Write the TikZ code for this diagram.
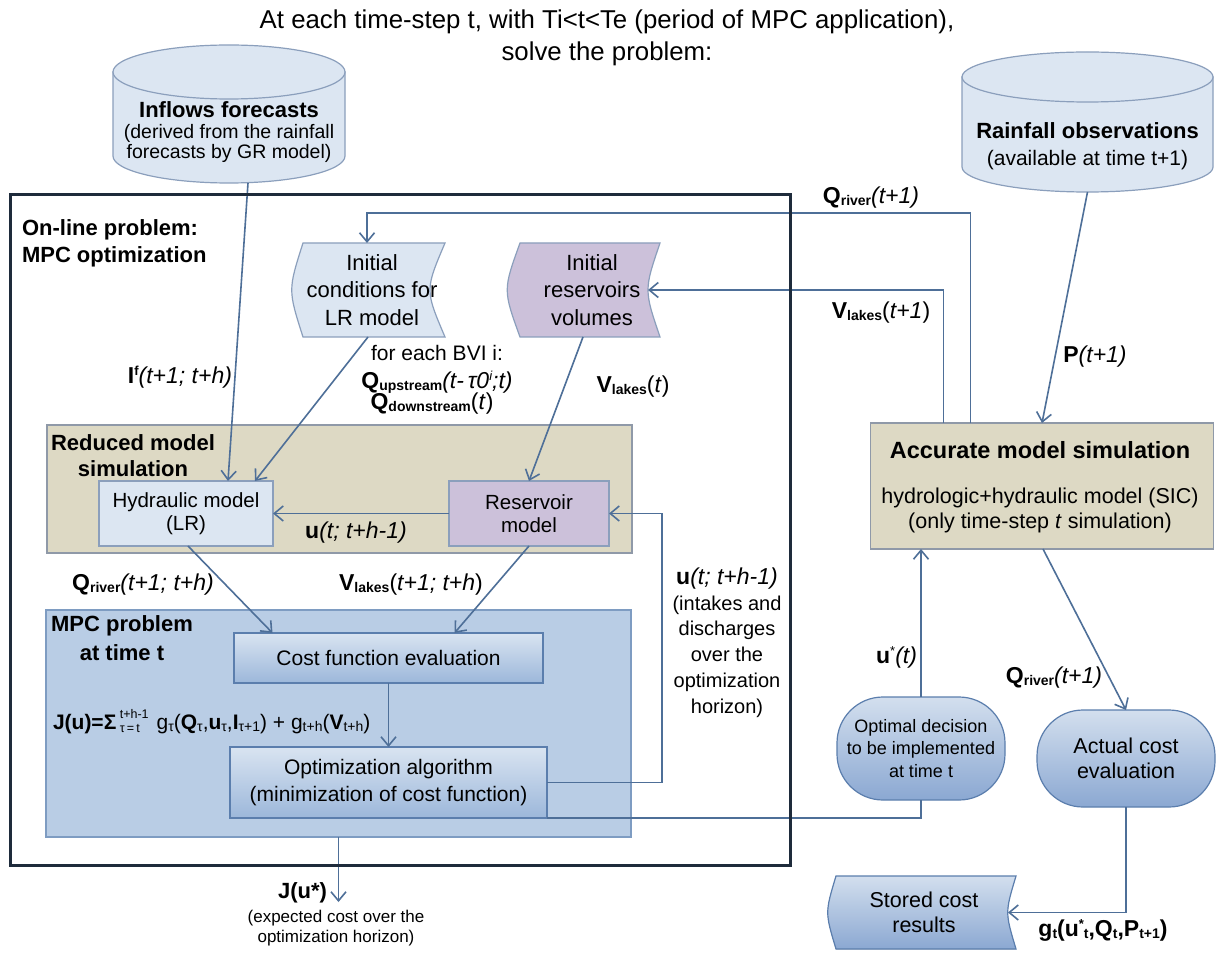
\documentclass[tikz,border=0pt]{standalone}
\usepackage{fontspec}
\setmainfont{Liberation Sans}
\usetikzlibrary{arrows.meta,calc,shadings}

\definecolor{lblue}{HTML}{DCE6F2}
\definecolor{purp}{HTML}{CCC1DA}
\definecolor{tanc}{HTML}{DDD9C4}
\definecolor{mpcc}{HTML}{B9CDE5}
\definecolor{edgec}{HTML}{4E6F98}
\definecolor{bordc}{HTML}{8B9FBC}
\definecolor{tanb}{HTML}{8F99A8}
\definecolor{mpcb}{HTML}{7E9CC2}
\definecolor{darkb}{HTML}{5B7EAD}
\definecolor{gtop}{HTML}{D9E4F1}
\definecolor{gbot}{HTML}{9CB7DA}
\definecolor{ctop}{HTML}{D3DFEE}
\definecolor{cbot}{HTML}{8BA8D2}
\definecolor{framec}{HTML}{1E2B3B}

\newcommand\sbx[1]{\raisebox{-2pt}{\fontsize{14}{14}\selectfont #1}}
\newcommand\spx[1]{\raisebox{8pt}{\fontsize{13}{13}\selectfont #1}}
\newcommand\fsz[2]{\fontsize{#1}{#2}\selectfont}

\tikzset{
  txt/.style={inner sep=0pt, outer sep=0pt},
  arr/.style={draw=edgec, line width=1.6pt, -{Straight Barb[length=9pt,width=15pt]}},
  ln/.style={draw=edgec, line width=1.6pt},
  cylsty/.style={fill=lblue, draw=bordc, line width=1.2pt},
  lbluebox/.style={txt, fill=lblue, draw=bordc, line width=1.2pt},
  purpbox/.style={txt, fill=purp, draw=bordc, line width=1.2pt},
  tanbox/.style={txt, fill=tanc, draw=tanb, line width=1.2pt},
  mpcbox/.style={txt, fill=mpcc, draw=mpcb, line width=1.2pt},
  gradbox/.style={txt, top color=gtop, bottom color=gbot, draw=darkb, line width=1.2pt},
  capsule/.style={txt, top color=ctop, bottom color=cbot, draw=darkb, line width=1.2pt, rounded corners=46pt},
  lab/.style={txt, font=\fsz{23}{27}},
}

\begin{document}
\begin{tikzpicture}[x=1pt,y=-1pt]
\useasboundingbox (0,0) rectangle (1218,957);
\fill[white] (0,0) rectangle (1218,957);

% title
\node[txt, align=center, font=\fsz{25.8}{32}] (title) at (607,38)
  {At each time-step t, with Ti<t<Te (period of MPC application),\\solve the problem:};

% containers
\node[tanbox, minimum width=585, minimum height=128] (red) at (339.5,489) {};
\node[mpcbox, minimum width=585, minimum height=227] (mpc) at (338.5,723.5) {};
\node[txt, minimum width=780, minimum height=670] (frm) at (400,530) {};

% cylinders
\node[txt, minimum width=232, minimum height=138] (inf) at (229,114) {};
\filldraw[cylsty] (113,72) -- (113,156) .. controls (113,170.9) and (164.9,183) .. (229,183)
   .. controls (293.1,183) and (345,170.9) .. (345,156) -- (345,72) -- cycle;
\filldraw[cylsty] (229,72) ellipse[x radius=116, y radius=27];
\node[txt, align=center, font=\fsz{19.5}{20.5}] (inft) at (229,132.5)
  {{\bfseries\fsz{22}{20.5}Inflows forecasts}\\(derived from the rainfall\\forecasts by GR model)};

\node[txt, minimum width=251, minimum height=140] (rain) at (1087.5,122) {};
\filldraw[cylsty] (962,77) -- (962,167) .. controls (962,180.8) and (1018.2,192) .. (1087.5,192)
   .. controls (1156.8,192) and (1213,180.8) .. (1213,167) -- (1213,77) -- cycle;
\filldraw[cylsty] (1087.5,77) ellipse[x radius=125.5, y radius=25];
\node[txt, align=center, font=\fsz{21}{27}] (raint) at (1087.5,146.5)
  {{\bfseries\fsz{22}{27}Rainfall observations}\\(available at time t+1)};

% stored-data shapes
\node[txt, minimum width=142, minimum height=94] (ic) at (374,290) {};
\filldraw[fill=lblue, draw=bordc, line width=1.2pt] (ic.north west) -- (ic.north east)
  .. controls ($(ic.east)+(-20,0)$) .. (ic.south east) -- (ic.south west)
  .. controls ($(ic.west)+(-15,0)$) .. cycle;
\node[txt, align=center, font=\fsz{22}{27.5}] (ict) at (372,290) {Initial\\conditions for\\LR model};

\node[txt, minimum width=140, minimum height=94] (rv) at (590,290) {};
\filldraw[fill=purp, draw=bordc, line width=1.2pt] (rv.north west) -- (rv.north east)
  .. controls ($(rv.east)+(-16,0)$) .. (rv.south east) -- (rv.south west)
  .. controls ($(rv.west)+(-17,0)$) .. cycle;
\node[txt, align=center, font=\fsz{22}{27.5}] (rvt) at (592,290) {Initial\\reservoirs\\volumes};

\node[txt, minimum width=180, minimum height=73] (sto) at (926,912.5) {};
\filldraw[top color=ctop, bottom color=cbot, draw=darkb, line width=1.2pt] (sto.north west) -- (sto.north east)
  .. controls ($(sto.east)+(-11,0)$) .. (sto.south east) -- (sto.south west)
  .. controls ($(sto.west)+(-11,0)$) .. cycle;
\node[txt, align=center, font=\fsz{21.5}{25}] (stot) at (924,912.5) {Stored cost\\results};

% boxes
\node[lbluebox, minimum width=174, minimum height=65, align=center, font=\fsz{20.5}{23}] (hyd) at (186,513.5) {Hydraulic model\\(LR)};
\node[purpbox, minimum width=160, minimum height=65, align=center, font=\fsz{20.5}{23}] (res) at (529,513.5) {Reservoir\\model};
\node[gradbox, minimum width=309, minimum height=50, font=\fsz{21}{25}] (cost) at (388.5,658) {Cost function evaluation};
\node[gradbox, minimum width=317, minimum height=71, align=center, font=\fsz{21}{27}] (opt) at (388.5,782.5) {Optimization algorithm\\(minimization of cost function)};
\node[tanbox, minimum width=343, minimum height=126] (acc) at (1042,486) {};
\node[txt, font=\bfseries\fsz{23.5}{27}] (acct) at (1040,450) {Accurate model simulation};
\node[txt, align=center, font=\fsz{21.5}{25}] (acct2) at (1040,510.5) {hydrologic+hydraulic model (SIC)\\(only time-step \textit{t} simulation)};
\node[capsule, minimum width=168, minimum height=103, align=center, font=\fsz{18}{22.5}] (optd) at (921,748.5) {Optimal decision\\to be implemented\\at time t};
\node[capsule, minimum width=178, minimum height=97, align=center, font=\fsz{21.5}{25}] (act) at (1126,758.5) {Actual cost\\evaluation};

% connectors
\coordinate (fb) at (662,782.5);
\coordinate (jend) at (338.5,902);
\draw[arr] ($(inf.south)+(19,0)$) -- ($(hyd.north)+(42,0)$);
\draw[arr] ($(ic.south)+(-6,0)$) -- ($(hyd.north)+(69,0)$);
\draw[arr] ($(rv.south)+(-7,0)$) -- (res.north);
\draw[arr] (res.west) -- (hyd.east);
\draw[arr] (opt.east) -- (fb) |- (res.east);
\draw[arr] ($(hyd.south)+(2,0)$) -- ($(cost.north)+(-116,0)$);
\draw[arr] (res.south) -- ($(cost.north)+(66,0)$);
\draw[arr] (cost.south) -- (opt.north);
\draw[ln] (opt.south east) -| (optd.south);
\draw[arr] (optd.north) -- (optd.north |- acc.south);
\draw[arr] ($(acc.north west)+(100,0)$) |- ($(ic.north)+(-7,-30)$) -- ($(ic.north)+(-7,0)$);
\draw[arr] ($(acc.north west)+(73,0)$) |- ($(rv.east)+(-12,0)$);
\draw[arr] (rain.south) -- (acc.north);
\draw[arr] ($(acc.south)+(1,0)$) -- (act.north);
\draw[arr] (act.south) |- ($(sto.east)+(-8,0)$);
\draw[arr] (mpc.south) -- (jend);

% frame
\draw[framec, line width=3pt] (frm.north west) rectangle (frm.south east);

% container titles
\node[txt, anchor=west, align=left, font=\bfseries\fsz{22}{27}] (frmt) at (22,243.5) {On-line problem:\\MPC optimization};
\node[txt, align=center, font=\bfseries\fsz{22}{26}] (redt) at (133,456) {Reduced model\\simulation};
\node[txt, align=center, font=\bfseries\fsz{22}{29}] (mpct) at (122,638) {MPC problem\\at time t};

% formula
\node[txt, anchor=west, font=\fsz{21}{25}] (ju) at (53,723)
  {\textbf{J(u)=Σ}\,\raisebox{3pt}{\fsz{12.5}{14}\begin{tabular}{@{}l@{}}t+h-1\\τ\,=\,t\end{tabular}}\hspace{8pt}g\sbx{τ}(\textbf{Q}\sbx{τ},\textbf{u}\sbx{τ},\textbf{I}\sbx{τ+1}) + g\sbx{t+h}(\textbf{V}\sbx{t+h})};

% labels
\node[lab] (lqr1) at (871,198) {\textbf{Q\sbx{river}}\textit{(t+1)}};
\node[lab] (lvl1) at (881,313) {\textbf{V\sbx{lakes}}(\textit{t+1})};
\node[lab] (lp) at (1095,357) {\textbf{P}\textit{(t+1)}};
\node[lab, anchor=east] (lif) at (232,377) {\textbf{I\spx{f}}\textit{(t+1; t+h)}};
\node[txt, font=\fsz{21}{25}] (lbvi) at (437,353) {for each BVI i:};
\node[lab] (lqup) at (437,382) {\textbf{Q\sbx{upstream}}\textit{(t-\,τ0\spx{i};t)}};
\node[lab] (lqdn) at (432,404) {\textbf{Q\sbx{downstream}}(\textit{t})};
\node[lab] (lvt) at (633,387) {\textbf{V\sbx{lakes}}(\textit{t})};
\node[lab] (lu) at (356,533) {\textbf{u}\textit{(t; t+h-1)}};
\node[lab] (lqr2) at (143,585) {\textbf{Q\sbx{river}}\textit{(t+1; t+h)}};
\node[lab] (lvl2) at (411,585) {\textbf{V\sbx{lakes}}(\textit{t+1; t+h})};
\node[txt, align=center, font=\fsz{20}{25.8}] (lint) at (727,642.5)
  {{\fsz{23}{25.8}\textbf{u}\textit{(t; t+h-1)}}\\(intakes and\\discharges\\over the\\optimization\\horizon)};
\node[lab, anchor=east] (lus) at (917,657) {\textbf{u}\spx{*}\textit{(t)}};
\node[lab] (lqr3) at (1054,678) {\textbf{Q\sbx{river}}\textit{(t+1)}};
\node[lab] (lg) at (1103,930) {\textbf{g\sbx{t}(u\spx{*}\sbx{t},Q\sbx{t},P\sbx{t+1})}};
\node[txt, anchor=east, font=\bfseries\fsz{22}{25}] (lj) at (327,893) {J(u*)};
\node[txt, align=center, font=\fsz{17}{20}] (ljt) at (336,928) {(expected cost over the\\optimization horizon)};
\end{tikzpicture}
\end{document}
